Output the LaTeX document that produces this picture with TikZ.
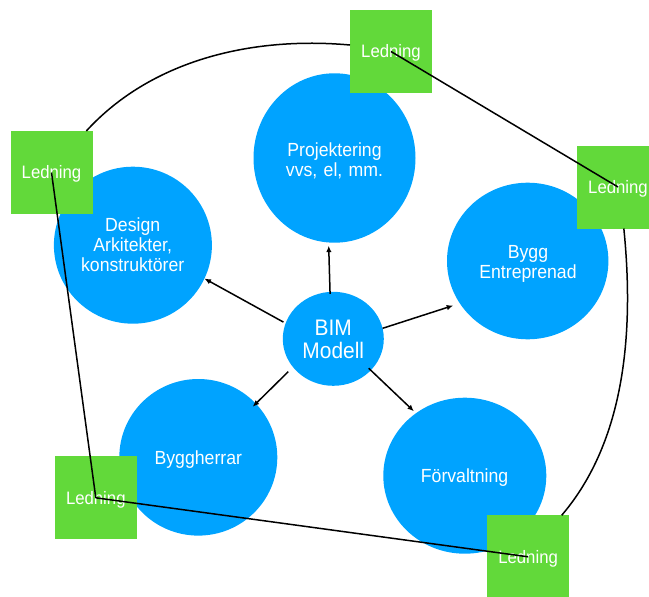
\documentclass[tikz,border=0pt]{standalone}
\usepackage{fontspec}
\setmainfont{Liberation Sans}[FakeStretch=0.93]
\usetikzlibrary{shapes.geometric,arrows.meta,calc}
\definecolor{bimblue}{RGB}{0,163,255}
\definecolor{ledgreen}{RGB}{98,217,58}
\begin{document}
\begin{tikzpicture}[x=1pt,y=-1pt,
  bub/.style={ellipse,fill=bimblue,draw=none,inner sep=0pt,outer sep=0pt},
  led/.style={rectangle,fill=ledgreen,draw=none,minimum width=82pt,minimum height=83pt,
    inner sep=0pt,outer sep=0pt,text=white,font=\fontsize{18}{20}\selectfont,
    text height=12.9pt,text depth=0pt},
  btxt/.style={text=white,font=\fontsize{19}{20}\selectfont,align=center,
    text width=170pt,inner sep=0pt,anchor=base},
  conn/.style={line width=1.5pt,black},
  arr/.style={conn,-{Latex[length=6.5pt,width=5.5pt]}}]
\clip (0,0) rectangle (649,597);
% bubbles
\node[bub,minimum width=162pt,minimum height=169.4pt] (proj) at (334.5,158) {};
\node[bub,minimum width=158pt,minimum height=157pt] (design) at (132.9,245.2) {};
\node[bub,minimum width=161.4pt,minimum height=156.6pt] (bygg) at (527.7,261) {};
\node[bub,minimum width=101pt,minimum height=94pt] (bim) at (333.3,338.8) {};
\node[bub,minimum width=158pt,minimum height=156.6pt] (byggh) at (198.3,457.3) {};
\node[bub,minimum width=163pt,minimum height=156pt] (forv) at (464.8,475.7) {};
% bubble texts
\node[btxt] (projt) at (334.5,156.7) {Projektering\\vvs, el, mm.};
\node[btxt] (designt) at (132.7,231.7) {Design\\Arkitekter,\\konstruktörer};
\node[btxt] (byggt) at (528,258.3) {Bygg\\Entreprenad};
\node[btxt,font=\fontsize{22.5}{23.4}\selectfont] (bimt) at (333.3,335) {BIM\\Modell};
\node[btxt] (byggherrt) at (198.3,464.3) {Byggherrar};
\node[btxt] (forvt) at (464.6,482.7) {Förvaltning};
% Ledning boxes
\node[led] (top) at (391,51.5) {Ledning};
\node[led] (tl) at (51.5,172.5) {Ledning};
\node[led] (tr) at (618,187) {Ledning};
\node[led] (bl) at (95.8,497.8) {Ledning};
\node[led] (br) at (528.1,556.8) {Ledning};
% arrows from BIM
\draw[arr,shorten <=-2pt,shorten >=3.2pt] (bim.94.9) -- (proj.266.5);
\draw[arr,shorten <=2.5pt] (bim.162.3) -- (design.335.4);
\draw[arr,shorten >=7pt] (bim.12.3) -- (bygg.212.25);
\draw[arr,shorten <=6.5pt,shorten >=-4.4pt] (bim.215.1) -- (byggh.43);
\draw[arr,shorten <=-2.9pt,shorten >=2.85pt] (bim.320.9) -- (forv.128.6);
% Ledning connections
\draw[conn] (top.center) -- (tr.center);
\draw[conn] (tl.center) -- (bl.center);
\draw[conn] (bl.center) -- (br.center);
\draw[conn] (tl.50.26) .. controls +(64,-70) and +(-100,-9) .. (top.171);
\draw[conn] (tr.278) .. controls +(10.2,101.3) and +(64.3,-75.3) .. (br.51.8);
\end{tikzpicture}
\end{document}
